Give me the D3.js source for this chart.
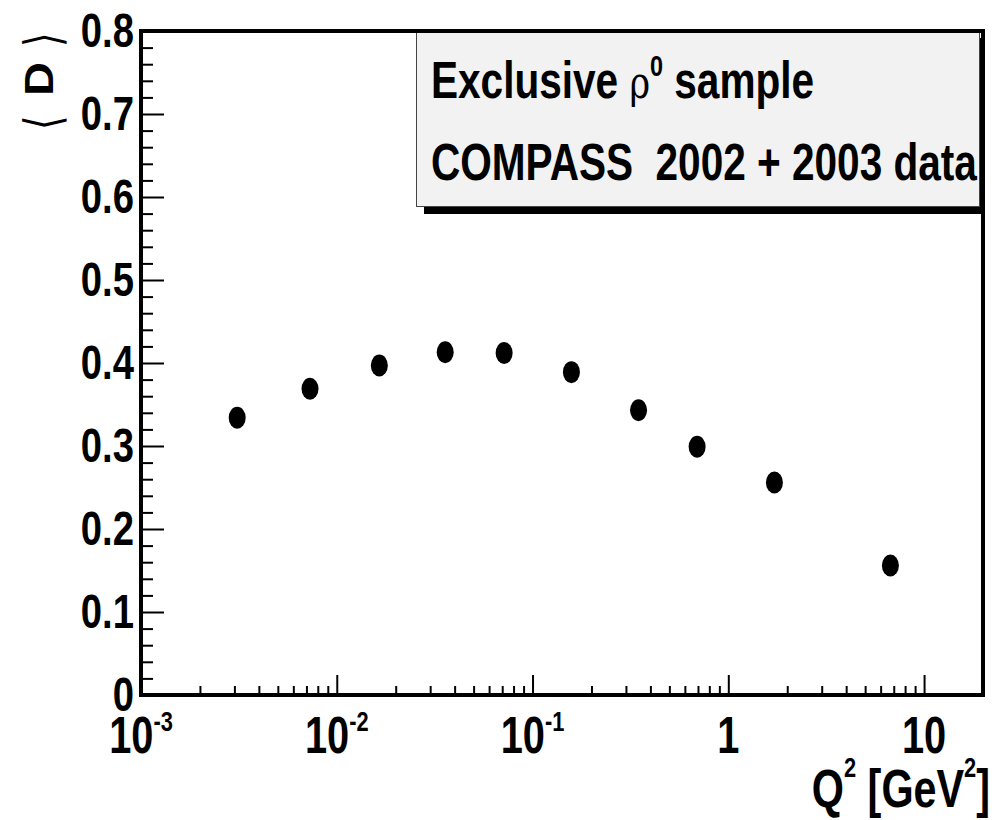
<!DOCTYPE html>
<html>
<head>
<meta charset="utf-8">
<script src="https://cdn.jsdelivr.net/npm/d3@7"></script>
<style>
  html, body { margin: 0; padding: 0; background: #fff; }
</style>
</head>
<body>
<div id="viz"></div>
<script>
// <D> vs Q^2, exclusive rho0 sample
const q2 = [0.0031, 0.0073, 0.0165, 0.0358, 0.0716, 0.158, 0.348, 0.693, 1.72, 6.73];
const meanD = [0.334, 0.369, 0.397, 0.413, 0.412, 0.389, 0.343, 0.299, 0.256, 0.156];

const xMajorTicks = [1e-3, 1e-2, 1e-1, 1, 10];
const xTickBase = ["10", "10", "10", "1", "10"];
const xTickExp = ["-3", "-2", "-1", "", ""];
const yMajorTicks = [0, 0.1, 0.2, 0.3, 0.4, 0.5, 0.6, 0.7, 0.8];
const yTickLabels = ["0", "0.1", "0.2", "0.3", "0.4", "0.5", "0.6", "0.7", "0.8"];

const legendLines = ["Exclusive", "COMPASS  2002 + 2003 data"];

const config = {
  svgWidth: 1005,
  svgHeight: 820,
  left: 141,
  right: 983,
  top: 31,
  bottom: 695,
  xDomain: [1e-3, 20],
  yDomain: [0, 0.8],
  font: "'Liberation Sans', Arial, Helvetica, sans-serif",
  squeeze: 0.78,
  labelSize: 51,
  legendSize: 52,
  frameWidth: 4,
};

const svg = d3
  .select("#viz")
  .append("svg")
  .attr("width", config.svgWidth)
  .attr("height", config.svgHeight);

const x = d3.scaleLog().domain(config.xDomain).range([config.left, config.right]);
const y = d3.scaleLinear().domain(config.yDomain).range([config.bottom, config.top]);

// minor ticks: 2..9 in each decade, 0.02 steps on y
const xMinorTicks = [];
for (let e = -3; e <= 1; e++) {
  for (let m = 2; m <= 9; m++) {
    const v = m * Math.pow(10, e);
    if (v < config.xDomain[1]) xMinorTicks.push(v);
  }
}
const yMinorTicks = d3.range(0, 0.8001, 0.02).filter((v) => Math.abs(v * 10 - Math.round(v * 10)) > 1e-6);

const drawAxis = (axis, transform) => {
  const g = svg.append("g").attr("transform", transform).call(axis);
  g.select(".domain").remove();
  g.selectAll("line").attr("stroke", "#000").attr("stroke-width", 2);
  g.selectAll("text").remove();
};

drawAxis(d3.axisBottom(x).tickValues(xMajorTicks).tickSize(-20).tickFormat(""), `translate(0,${config.bottom})`);
drawAxis(d3.axisBottom(x).tickValues(xMinorTicks).tickSize(-9).tickFormat(""), `translate(0,${config.bottom})`);
drawAxis(d3.axisLeft(y).tickValues(yMajorTicks).tickSize(-23).tickFormat(""), `translate(${config.left},0)`);
drawAxis(d3.axisLeft(y).tickValues(yMinorTicks).tickSize(-12).tickFormat(""), `translate(${config.left},0)`);

// legend box with shadow
svg
  .append("rect")
  .attr("x", 424)
  .attr("y", 38)
  .attr("width", 561)
  .attr("height", 176)
  .attr("fill", "#000");
svg
  .append("rect")
  .attr("x", 416.5)
  .attr("y", 31.5)
  .attr("width", 563)
  .attr("height", 175)
  .attr("fill", "#f2f2f2")
  .attr("stroke", "#444")
  .attr("stroke-width", 1);

// frame
svg
  .append("rect")
  .attr("x", config.left)
  .attr("y", config.top)
  .attr("width", config.right - config.left)
  .attr("height", config.bottom - config.top)
  .attr("fill", "none")
  .attr("stroke", "#000")
  .attr("stroke-width", config.frameWidth);

const squeezedText = (px, py, anchor, size) =>
  svg
    .append("text")
    .attr("transform", `translate(${px},${py}) scale(${config.squeeze},1)`)
    .attr("text-anchor", anchor)
    .attr("font-family", config.font)
    .attr("font-weight", "bold")
    .attr("font-size", size)
    .attr("fill", "#000")
    .style("white-space", "pre");

// y tick labels
yMajorTicks.forEach((v, i) => {
  squeezedText(134, y(v) + 16, "end", 49).text(yTickLabels[i]);
});

// x tick labels
xMajorTicks.forEach((v, i) => {
  const t = squeezedText(x(v), 753, "middle", config.labelSize);
  t.append("tspan").text(xTickBase[i]);
  if (xTickExp[i]) {
    t.append("tspan").attr("dy", -22).attr("font-size", 28).text(xTickExp[i]);
  }
});

// x axis title
const xt = squeezedText(990, 807, "end", 53);
xt.append("tspan").text("Q");
xt.append("tspan").attr("dy", -30).attr("font-size", 28).text("2");
xt.append("tspan").attr("dy", 30).text(" [GeV");
xt.append("tspan").attr("dy", -30).attr("font-size", 28).text("2");
xt.append("tspan").attr("dy", 30).text("]");

// y axis title, rotated: ⟨ D ⟩
const rotText = (px, py, txt, opts) =>
  svg
    .append("text")
    .attr("transform", `translate(${px},${py}) rotate(-90) scale(${opts.along},${opts.across})`)
    .attr("text-anchor", "middle")
    .attr("dominant-baseline", opts.baseline || "auto")
    .attr("font-family", opts.family)
    .attr("font-weight", opts.weight)
    .attr("font-size", opts.size)
    .attr("fill", "#000")
    .text(txt);

const bracketOpts = { along: 1.05, across: 1.4, size: 36, weight: 200, family: "'DejaVu Sans', sans-serif", baseline: "central" };
rotText(43, 122, "⟨", bracketOpts);
rotText(53, 79, "D", { along: 1.18, across: 1, size: 40, weight: "bold", family: config.font });
rotText(43, 39, "⟩", bracketOpts);

// legend text
const l1 = squeezedText(431, 98, "start", config.legendSize);
l1.append("tspan").text(legendLines[0] + " ");
l1.append("tspan").attr("font-weight", "normal").attr("font-family", "'DejaVu Serif', serif").attr("font-size", 45).text("ρ");
l1.append("tspan").attr("dy", -22).attr("font-size", 30).text("0");
l1.append("tspan").attr("dy", 22).text(" sample");
squeezedText(431, 180, "start", config.legendSize).text(legendLines[1]);

// data points
svg
  .append("g")
  .selectAll("ellipse")
  .data(q2.map((q, i) => ({ q, d: meanD[i] })))
  .join("ellipse")
  .attr("cx", (d) => x(d.q))
  .attr("cy", (d) => y(d.d))
  .attr("rx", 8.5)
  .attr("ry", 11)
  .attr("fill", "#000");
</script>
</body>
</html>
